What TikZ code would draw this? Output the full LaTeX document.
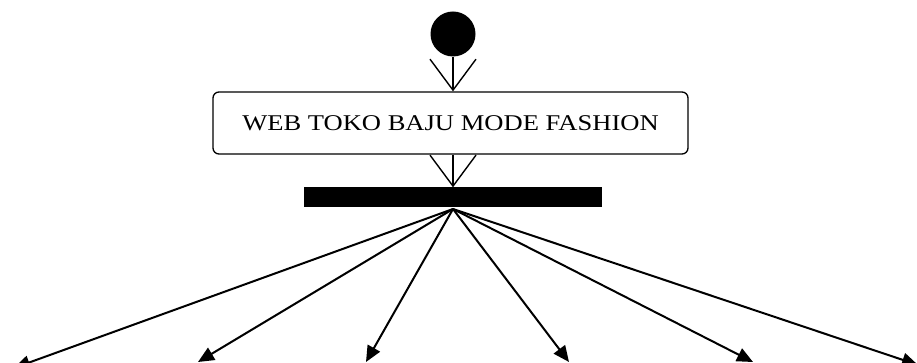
\documentclass[tikz,border=0pt]{standalone}
\usepackage{fontspec}
\setmainfont{Liberation Serif}
\newfontfamily\boxfont[FakeStretch=1.18]{Liberation Serif}
\usetikzlibrary{arrows.meta}
\begin{document}
\begin{tikzpicture}[x=1pt,y=-1pt,
  startnode/.style={circle,fill=black,draw=none,minimum size=45pt,inner sep=0pt},
  actbox/.style={draw=black,line width=1.3pt,rounded corners=6pt,minimum width=475pt,minimum height=62pt,inner sep=0pt,font=\boxfont\fontsize{22.5pt}{26pt}\selectfont},
  forkbar/.style={fill=black,draw=none,minimum width=298pt,minimum height=20pt,inner sep=0pt},
  openflow/.style={line width=1.4pt,-{Straight Barb[length=31pt,width=46pt,line width=1.4pt]}},
  forkflow/.style={line width=2pt,-{Triangle[length=16pt,width=14pt]}}]
\useasboundingbox (0,0) rectangle (917,363);
\node[startnode] (start) at (453,34) {};
\node[actbox] (web) at (450.5,123) {WEB TOKO BAJU MODE FASHION};
\node[forkbar] (fork) at (453,197.5) {};
\coordinate (hub) at (453,209);
\coordinate (t1) at (14,368);
\coordinate (t2) at (198,362);
\coordinate (t3) at (366,362);
\coordinate (t4) at (569,362);
\coordinate (t5) at (753,362);
\coordinate (t6) at (918,365);
\draw[openflow] (start.south) -- (start.south |- web.north);
\draw[openflow] (start.south |- web.south) -- (start.south |- fork.north);
\foreach \t in {t1,t2,t3,t4,t5,t6}
  \draw[forkflow] (hub) -- (\t);
\end{tikzpicture}
\end{document}
